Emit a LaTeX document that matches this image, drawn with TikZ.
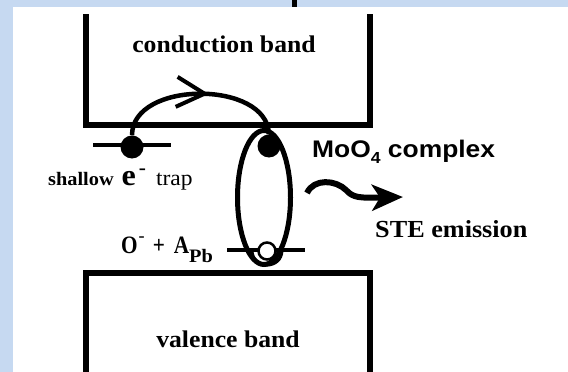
\documentclass[tikz,border=0pt]{standalone}
\usepackage{fontspec}
\setmainfont{Liberation Serif}[FakeStretch=1.07]
\newfontfamily\narrowserif{Liberation Serif}[FakeStretch=0.85]
\newfontfamily\arialfont{Liberation Sans}[FakeStretch=1.1]
\usetikzlibrary{arrows.meta,shapes.geometric,decorations.markings}
\definecolor{bgblue}{HTML}{C6D9F1}

\begin{document}
\begin{tikzpicture}[x=1pt, y=-1pt,
    band/.style={line width=6pt, line join=miter},
    level/.style={line width=4pt},
    carrier/.style={circle, fill=black, inner sep=0pt, minimum size=23pt},
    lbl/.style={font=\bfseries\fontsize{24}{24}\selectfont, inner sep=0pt, anchor=base},
    hop/.style={line width=4.5pt, postaction={decorate},
                decoration={markings, mark=at position 0.55 with
                  {\arrow{Straight Barb[length=28pt, width=30pt, line width=4pt]}}}},
    glow/.style={line width=6pt, -{Stealth[length=31pt, width=26pt, inset=8pt]}}
]
\useasboundingbox (0,0) rectangle (568,372);
\fill[bgblue] (0,0) rectangle (568,372);
\fill[white] (13,7) rectangle (568,372);
\draw[line width=5pt] (294,0) -- (294,7);

% bands
\draw[band] (86,14) -- (86,125) -- (370,125) -- (370,14);
\draw[band] (86,378) -- (86,273) -- (370,273) -- (370,378);
\node[lbl] (cb) at (224,52.5) {conduction band};
\node[lbl] (vb) at (228,347) {valence band};

% shallow electron trap
\draw[level] (93,145) -- (171,145);
\node[carrier] (edot) at (132,147) {};
\node[anchor=base west, inner sep=0pt] (traplbl) at (48,185)
    {{\bfseries\fontsize{19}{19}\selectfont shallow}\hspace{8pt}%
     {\bfseries\fontsize{30}{30}\selectfont e}\hspace{3pt}%
     \raisebox{11pt}{\bfseries\fontsize{20}{20}\selectfont -}\hspace{10pt}%
     {\fontsize{22}{22}\selectfont trap}};

% MoO4 complex
\draw[level] (227,250) -- (305,250);
\draw[line width=3pt] (252,250) .. controls (252,270) and (282,270) .. (282,250);
\node[draw, ellipse, line width=5pt, minimum width=53pt, minimum height=134pt,
      inner sep=0pt] (moo) at (264,197.5) {};
\node[carrier] (cdot) at (269,146) {};
\node[circle, draw, fill=white, line width=2.5pt, minimum size=17pt,
      inner sep=0pt] (hole) at (267,251) {};
\draw[hop] (edot) .. controls (132,80) and (268,80) .. (cdot);
\node[lbl, anchor=base west, font=\arialfont\bfseries\fontsize{24}{24}\selectfont]
    (moolbl) at (312,157) {MoO\raisebox{-6pt}{\fontsize{16}{16}\selectfont 4} complex};
\node[anchor=base west, inner sep=0pt, font=\narrowserif\bfseries\fontsize{25}{25}\selectfont]
    (holelbl) at (121,253)
    {O\hspace{1pt}\raisebox{12pt}{\rmfamily\bfseries\fontsize{17}{17}\selectfont -}\hspace{8pt}+\hspace{9pt}A%
     \raisebox{-9pt}{\rmfamily\bfseries\fontsize{19}{19}\selectfont Pb}};

% self-trapped exciton emission
\coordinate (glowstart) at (307,193);
\coordinate (glowtip) at (403,197);
\draw[glow] (glowstart) .. controls (314,178) and (336,180) .. (346,190)
    .. controls (353,198) and (360,198) .. (glowtip);
\node[lbl, anchor=base west, font=\bfseries\fontsize{24.5}{24.5}\selectfont]
    (ste) at (375,237) {STE emission};
\end{tikzpicture}
\end{document}
